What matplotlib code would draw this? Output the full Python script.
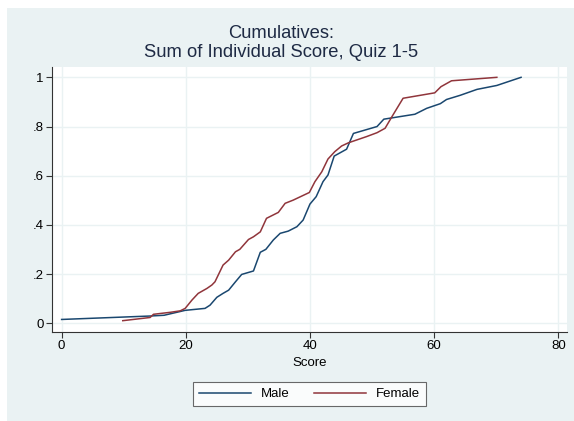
import numpy as np
import matplotlib
matplotlib.use("Agg")
import matplotlib.pyplot as plt

plt.rcParams['font.family'] = ['Liberation Sans', 'DejaVu Sans']

# cumulative share by score
male_score = [0, 14.3, 16.5, 19.9, 23.1, 23.9, 25, 26, 26.9, 28, 29, 30.9, 32, 32.9, 34.1, 35.2,
              36.5, 37.9, 38.9, 40, 41, 42.1, 42.9, 43.9, 45.9, 47, 50.8, 51.9, 56.9, 58.8, 61, 62,
              64.2, 66.9, 70.1, 74]
male_cum = [0.016, 0.03, 0.033, 0.053, 0.061, 0.074, 0.106, 0.122, 0.135, 0.169, 0.199, 0.213,
            0.289, 0.301, 0.339, 0.366, 0.375, 0.393, 0.42, 0.485, 0.515, 0.576, 0.603, 0.68, 0.708,
            0.772, 0.80, 0.83, 0.85, 0.874, 0.893, 0.91, 0.927, 0.951, 0.967, 1.0]

female_score = [9.85, 14.25, 14.8, 17.5, 19.1, 19.9, 21, 22, 23.4, 24.2, 24.7, 26, 26.9, 28, 28.7,
                30.1, 30.9, 32, 33, 34.9, 36, 37.3, 39.9, 40.8, 41.9, 42.9, 44, 45.1, 46.2, 49.1,
                50.8, 52.1, 53.2, 55, 60.1, 61.1, 62.8, 70.1]
female_cum = [0.011, 0.024, 0.037, 0.045, 0.051, 0.061, 0.095, 0.122, 0.142, 0.156, 0.169, 0.237,
              0.257, 0.291, 0.301, 0.341, 0.352, 0.372, 0.427, 0.451, 0.488, 0.501, 0.532, 0.576,
              0.616, 0.668, 0.698, 0.721, 0.734, 0.759, 0.775, 0.793, 0.84, 0.915, 0.937, 0.962,
              0.986, 1.0]

x_ticks = [0, 20, 40, 60, 80]
y_ticks = [0, 0.2, 0.4, 0.6, 0.8, 1]
y_labels = ['0', '.2', '.4', '.6', '.8', '1']

bg = '#eaf2f3'
axis_col = '#333333'

fig = plt.figure(figsize=(5.74, 4.21), dpi=100)
fig.patch.set_facecolor('white')
# stata-style graph region (white sliver at top and left)
fig.patches.append(plt.Rectangle((7 / 574, 0), 1, 1 - 8 / 421, transform=fig.transFigure,
                                 facecolor=bg, edgecolor='none', zorder=-10))

ax = fig.add_axes([52 / 574, 89 / 421, 515 / 574, 265 / 421])
ax.set_facecolor('white')
ax.plot(male_score, male_cum, color='#1a476f', lw=1.1, label='Male')
ax.plot(female_score, female_cum, color='#90353b', lw=1.1, label='Female')

ax.set_xlim(-1.55, 81.4)
ax.set_ylim(-0.035, 1.042)
ax.set_xticks(x_ticks)
ax.set_yticks(y_ticks)
ax.set_yticklabels(y_labels)
ax.grid(True, color=bg, lw=1.0)
ax.set_axisbelow(True)
for side in ['top', 'right']:
    ax.spines[side].set_visible(False)
for side in ['left', 'bottom']:
    ax.spines[side].set_color(axis_col)
    ax.spines[side].set_linewidth(0.8)
ax.tick_params(direction='out', length=4, width=0.8, color=axis_col, labelsize=9.5,
               labelcolor='black', pad=2)

ax.set_xlabel('Score', fontsize=9.5, labelpad=3)
fig.text(281 / 574, 1 - 43 / 421, 'Cumulatives:\nSum of Individual Score, Quiz 1-5',
         fontsize=13.2, color='#1e2a44', linespacing=1.1, ha='center', va='center')

leg = ax.legend(loc='upper center', bbox_to_anchor=(0.5, -0.165), ncol=2, fontsize=9.5,
                frameon=True, fancybox=False, edgecolor='#444444', handlelength=4.0,
                columnspacing=1.8, borderpad=0.45, handletextpad=0.75)
leg.get_frame().set_linewidth(0.8)

fig.savefig('out.png', dpi=100, facecolor=fig.get_facecolor())
